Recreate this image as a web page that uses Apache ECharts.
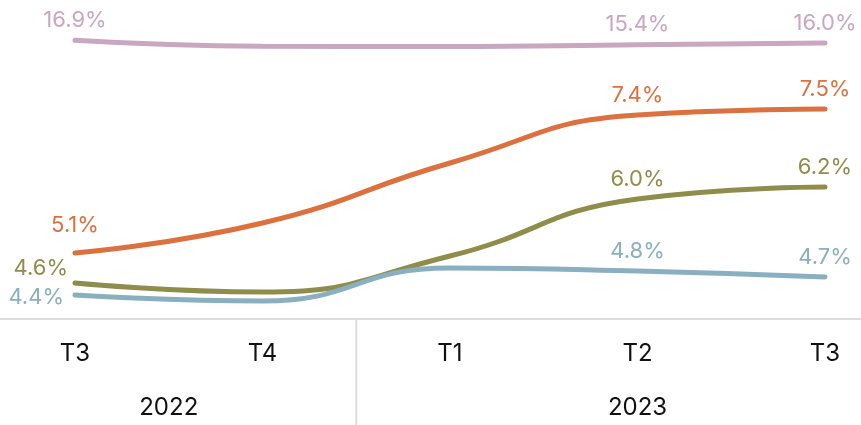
<!DOCTYPE html>
<html>
<head>
<meta charset="utf-8">
<script src="https://cdn.jsdelivr.net/npm/echarts@6/dist/echarts.min.js"></script>
<style>
  html, body { margin: 0; padding: 0; background: #fff; }
  #main { width: 861px; height: 425px; }
</style>
</head>
<body>
<div id="main"></div>
<script>
var quarters = ['T3', 'T4', 'T1', 'T2', 'T3'];
var years = ['2022', '2023'];
var yearPos = [0.5, 3];
var pinkVals = [16.9, 14.9, 14.8, 15.4, 16.0];
var orangeVals = [5.1, 5.6, 6.6, 7.4, 7.5];
var oliveVals = [4.6, 4.45, 5.05, 6.0, 6.2];
var blueVals = [4.4, 4.3, 4.85, 4.8, 4.7];
var labelIdx = [0, 3, 4];

var FONT = 'Inter';

function makeData(vals, firstLabel) {
    return vals.map(function (v, i) {
        var item = {value: v};
        if (labelIdx.indexOf(i) >= 0) {
            item.label = {show: true, position: 'top', distance: 8};
            if (i === 0 && firstLabel) {
                item.label = Object.assign(item.label, firstLabel);
            }
        }
        return item;
    });
}

function line(name, vals, color, axis, firstLabel) {
    return {
        name: name,
        type: 'line',
        yAxisIndex: axis,
        smooth: 0.5,
        symbol: 'circle',
        symbolSize: 2,
        lineStyle: {color: color, width: 5, cap: 'round'},
        itemStyle: {color: color},
        label: {
            color: color,
            fontFamily: FONT,
            fontSize: 22,
            formatter: function (p) { return p.value.toFixed(1) + '%'; }
        },
        data: makeData(vals, firstLabel)
    };
}

var myChart = echarts.init(document.getElementById('main'));
var option = {
    animation: false,
    grid: {left: 75, right: 36, top: 19, bottom: 106},
    xAxis: [
        {
            type: 'category',
            boundaryGap: false,
            data: quarters,
            axisLine: {show: false},
            axisTick: {show: false},
            axisLabel: {color: '#111', fontFamily: FONT, fontSize: 24, margin: 23}
        },
        {
            type: 'value',
            min: 0,
            max: 4,
            interval: 0.5,
            position: 'bottom',
            offset: 54,
            axisLine: {show: false},
            axisTick: {show: false},
            splitLine: {show: false},
            axisLabel: {
                color: '#111', fontFamily: FONT, fontSize: 24, margin: 23,
                showMinLabel: true, showMaxLabel: true,
                formatter: function (v) {
                    var k = yearPos.indexOf(v);
                    return k >= 0 ? years[k] : '';
                }
            }
        }
    ],
    yAxis: [
        {type: 'value', min: 4, max: 9, show: false},
        {type: 'value', min: -76, max: 24, show: false}
    ],
    series: [
        line('pink', pinkVals, '#c9a7c0', 1),
        line('orange', orangeVals, '#dc7140', 0, {distance: 16}),
        line('olive', oliveVals, '#8f8d4b', 0, {position: 'left', distance: 6, offset: [0, -15]}),
        line('blue', blueVals, '#8aafc0', 0, {position: 'left', distance: 10, offset: [0, 2]})
    ]
};
myChart.setOption(option);

var xMid = (myChart.convertToPixel({xAxisIndex: 0}, 1) + myChart.convertToPixel({xAxisIndex: 0}, 2)) / 2;
var yBase = myChart.convertToPixel({yAxisIndex: 0}, 4);
myChart.setOption({
    graphic: [
        {type: 'line', shape: {x1: 0, y1: yBase, x2: 861, y2: yBase}, style: {stroke: '#dddddd', lineWidth: 2}, z: 1},
        {type: 'line', shape: {x1: xMid, y1: yBase, x2: xMid, y2: 425}, style: {stroke: '#dddddd', lineWidth: 2}, z: 1}
    ]
});
</script>
</body>
</html>
